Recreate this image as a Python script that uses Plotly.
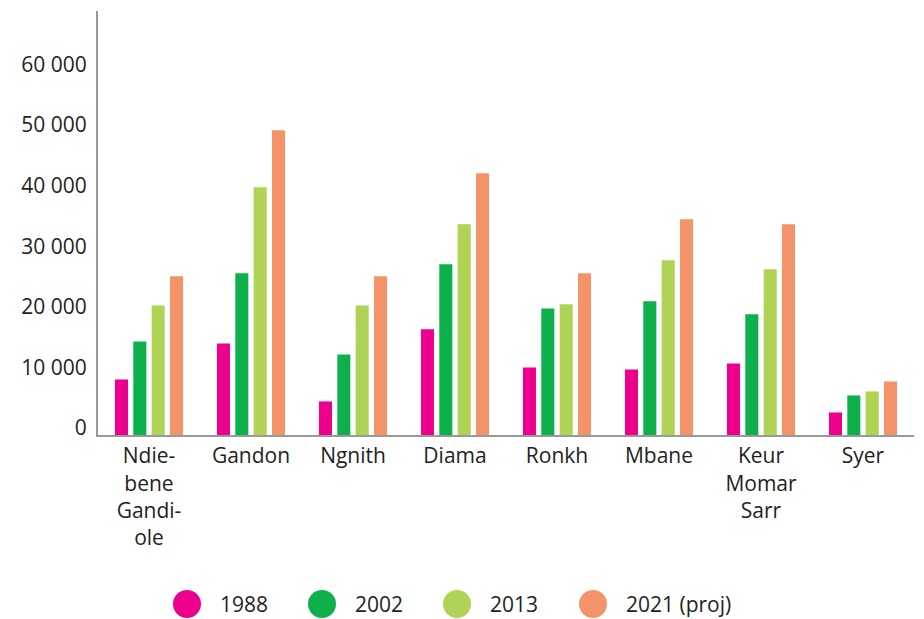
import plotly.graph_objects as go

categories = ["Ndie-<br>bene<br>Gandi-<br>ole", "Gandon", "Ngnith", "Diama", "Ronkh",
              "Mbane", "Keur<br>Momar<br>Sarr", "Syer"]
series_names = ["1988", "2002", "2013", "2021 (proj)"]
v1988 = [9170, 15120, 5540, 17440, 11160, 10830, 11820, 3720]
v2002 = [15450, 26700, 13300, 28180, 20900, 22070, 19920, 6530]
v2013 = [21400, 40900, 21400, 34800, 21570, 28840, 27360, 7190]
v2021 = [26200, 50330, 26200, 43220, 26700, 35620, 34800, 8840]
colors = ["#EC008C", "#0DB04B", "#AFD354", "#F4936A"]
tick_vals = [0, 10000, 20000, 30000, 40000, 50000, 60000]
tick_text = ["0", "10 000", "20 000", "30 000", "40 000", "50 000", "60 000"]

W, H = 924, 619
ML, MR, MT, MB = 98, 10, 11, 184
PW, PH = W - ML - MR, H - MT - MB

fig = go.Figure()
for name, vals, col in zip(series_names, [v1988, v2002, v2013, v2021], colors):
    fig.add_trace(go.Bar(x=categories, y=vals, name=name, marker_color=col,
                         marker_line_width=0, showlegend=False))

font = dict(family="Open Sans", size=21, color="#231f20")
fig.update_layout(
    width=W, height=H,
    margin=dict(l=ML, r=MR, t=MT, b=MB),
    plot_bgcolor="white", paper_bgcolor="white",
    barmode="group", bargap=0.28, bargroupgap=0.29,
    font=font,
    xaxis=dict(showline=True, linecolor="#999999", linewidth=2, showgrid=False,
               ticks="", tickfont=font, ticklabelstandoff=1),
    yaxis=dict(range=[0, 70000], showline=True, linecolor="#999999", linewidth=2,
               showgrid=False, zeroline=False, tickvals=tick_vals, ticktext=tick_text,
               ticks="", tickfont=font, ticklabelshift=-7, ticklabelstandoff=5),
)

# manual legend with large circles
leg_x = [187, 322, 457, 593]
leg_y = 604
r = 14
for x, name, col in zip(leg_x, series_names, colors):
    fig.add_shape(type="circle", xref="paper", yref="paper",
                  x0=(x - r - ML) / PW, x1=(x + r - ML) / PW,
                  y0=(H - MB - leg_y - r) / PH,
                  y1=(H - MB - leg_y + r) / PH,
                  fillcolor=col, line_width=0)
    fig.add_annotation(xref="paper", yref="paper",
                       x=(x + r + 17 - ML) / PW,
                       y=(H - MB - leg_y) / PH,
                       text=name, showarrow=False, xanchor="left", yanchor="middle",
                       font=font)

fig.write_html("out.html")
